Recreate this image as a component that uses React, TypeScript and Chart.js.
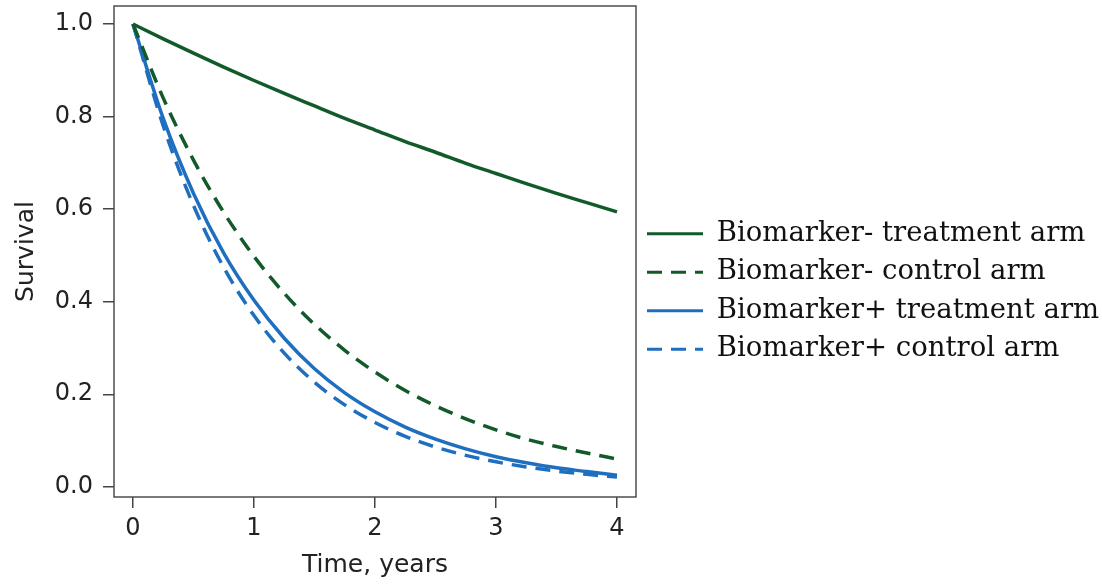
import React, { useEffect, useRef } from "react";
import { Chart, registerables } from "chart.js";

Chart.register(...registerables);

// Time points (years)
const times = [0, 0.25, 0.5, 0.75, 1, 1.25, 1.5, 1.75, 2, 2.25, 2.5, 2.75, 3, 3.25, 3.5, 3.75, 4];

// Survival values
const bioNegTreatment = [1.0, 0.968, 0.937, 0.907, 0.878, 0.85, 0.823, 0.796, 0.771, 0.746, 0.723, 0.699, 0.677, 0.655, 0.634, 0.614, 0.594];
const bioNegControl = [1.0, 0.84, 0.706, 0.593, 0.498, 0.418, 0.351, 0.295, 0.248, 0.208, 0.175, 0.147, 0.123, 0.103, 0.087, 0.073, 0.06];
const bioPosTreatment = [1.0, 0.796, 0.634, 0.505, 0.403, 0.321, 0.255, 0.203, 0.162, 0.129, 0.103, 0.082, 0.065, 0.052, 0.041, 0.033, 0.025];
const bioPosControl = [1.0, 0.78, 0.608, 0.474, 0.37, 0.289, 0.226, 0.177, 0.139, 0.109, 0.086, 0.068, 0.054, 0.043, 0.034, 0.027, 0.021];

const seriesLabels = [
  "Biomarker- treatment arm",
  "Biomarker- control arm",
  "Biomarker+ treatment arm",
  "Biomarker+ control arm",
];

const xTicks = [0, 1, 2, 3, 4];
const yTicks = [0, 0.2, 0.4, 0.6, 0.8, 1.0];
const xTitle = "Time, years";
const yTitle = "Survival";

const GREEN = "#135a2b";
const BLUE = "#1f6fc0";
const DASH = [15, 9];
const LINE_W = 3.5;

const LEGEND_FONT_SIZE = 27.5;
const LEGEND_FONT_FAMILY = "'DejaVu Serif', serif";
const LEGEND_BOX = 56;
const LEGEND_PAD = 11;
const LEGEND_SPACE = 466; // room from plot right edge to canvas right edge

const toPoints = (vals: number[]) => vals.map((v, i) => ({ x: times[i], y: v }));

const boxPlugin = {
  id: "boxFrame",
  afterDatasetsDraw(chart: any) {
    const { ctx, chartArea } = chart;
    ctx.save();
    ctx.strokeStyle = "#4d4d4d";
    ctx.lineWidth = 1.5;
    ctx.strokeRect(chartArea.left, chartArea.top, chartArea.right - chartArea.left, chartArea.bottom - chartArea.top);
    ctx.restore();
  },
};

export default function App() {
  const canvasRef = useRef<HTMLCanvasElement | null>(null);

  useEffect(() => {
    if (!canvasRef.current) return;
    const sans = "'DejaVu Sans', sans-serif";

    // measure legend text so the plot's right edge sits where the reference has it
    const mctx = document.createElement("canvas").getContext("2d")!;
    mctx.font = `normal ${LEGEND_FONT_SIZE}px ${LEGEND_FONT_FAMILY}`;
    const maxText = Math.max(...seriesLabels.map((t) => mctx.measureText(t).width));
    const natural = LEGEND_PAD + LEGEND_BOX + LEGEND_FONT_SIZE / 2 + maxText + 10;
    const rightPad = Math.max(0, LEGEND_SPACE - natural);

    const dashes = [null, DASH, null, DASH];

    const chart = new Chart(canvasRef.current, {
      type: "line",
      data: {
        datasets: [
          { label: seriesLabels[0], data: toPoints(bioNegTreatment), borderColor: GREEN, backgroundColor: GREEN, borderWidth: LINE_W, pointRadius: 0, cubicInterpolationMode: "monotone" },
          { label: seriesLabels[1], data: toPoints(bioNegControl), borderColor: GREEN, backgroundColor: GREEN, borderWidth: LINE_W, borderDash: DASH, pointRadius: 0, cubicInterpolationMode: "monotone" },
          { label: seriesLabels[2], data: toPoints(bioPosTreatment), borderColor: BLUE, backgroundColor: BLUE, borderWidth: LINE_W, pointRadius: 0, cubicInterpolationMode: "monotone" },
          { label: seriesLabels[3], data: toPoints(bioPosControl), borderColor: BLUE, backgroundColor: BLUE, borderWidth: LINE_W, borderDash: DASH, pointRadius: 0, cubicInterpolationMode: "monotone" },
        ] as any,
      },
      options: {
        animation: false,
        responsive: false,
        devicePixelRatio: 1,
        layout: { padding: { top: 6, right: rightPad, bottom: 8, left: 0 } },
        plugins: {
          tooltip: { enabled: false },
          legend: {
            position: "right",
            align: "center",
            maxWidth: LEGEND_SPACE,
            labels: {
              usePointStyle: true,
              pointStyle: "line",
              pointStyleWidth: LEGEND_BOX,
              boxWidth: LEGEND_BOX,
              padding: LEGEND_PAD,
              color: "#111",
              font: { family: LEGEND_FONT_FAMILY, size: LEGEND_FONT_SIZE },
              generateLabels: (chart: any) => {
                const items = Chart.defaults.plugins.legend.labels.generateLabels(chart);
                return items.map((it: any, i: number) => ({
                  ...it,
                  pointStyle: "line",
                  lineWidth: 3,
                  strokeStyle: chart.data.datasets[i].borderColor,
                  fillStyle: chart.data.datasets[i].borderColor,
                  lineDash: dashes[i] || [],
                  lineCap: "butt",
                }));
              },
            },
          },
        },
        scales: {
          x: {
            type: "linear",
            min: -0.157,
            max: 4.157,
            afterBuildTicks: (s: any) => { s.ticks = xTicks.map((v) => ({ value: v })); },
            afterFit: (s: any) => { s.height = 80; s.paddingLeft = 0; s.paddingRight = 0; },
            border: { display: false },
            grid: { drawOnChartArea: false, drawTicks: true, tickLength: 11, color: "#444", lineWidth: 1.5 },
            ticks: { color: "#222", padding: 6, maxRotation: 0, font: { family: sans, size: 24 }, callback: (v: any) => String(v) },
            title: { display: true, text: xTitle, color: "#222", font: { family: sans, size: 25, lineHeight: 1 }, padding: { top: 0, bottom: -1 } },
          },
          y: {
            type: "linear",
            min: -0.022,
            max: 1.039,
            afterBuildTicks: (s: any) => { s.ticks = yTicks.map((v) => ({ value: v })); },
            afterFit: (s: any) => { s.width = 114; s.paddingTop = 0; s.paddingBottom = 0; },
            border: { display: false },
            grid: { drawOnChartArea: false, drawTicks: true, tickLength: 11, color: "#444", lineWidth: 1.5 },
            ticks: { color: "#222", padding: 10, font: { family: sans, size: 24 }, callback: (v: any) => Number(v).toFixed(1) },
            title: { display: true, text: yTitle, color: "#222", font: { family: sans, size: 25 }, padding: { top: 11, bottom: 0 } },
          },
        },
      },
      plugins: [boxPlugin],
    });
    return () => chart.destroy();
  }, []);

  return (
    <div style={{ position: "absolute", left: 0, top: 0, width: 1102, height: 585, background: "#fff" }}>
      <canvas ref={canvasRef} width={1102} height={585} />
    </div>
  );
}
